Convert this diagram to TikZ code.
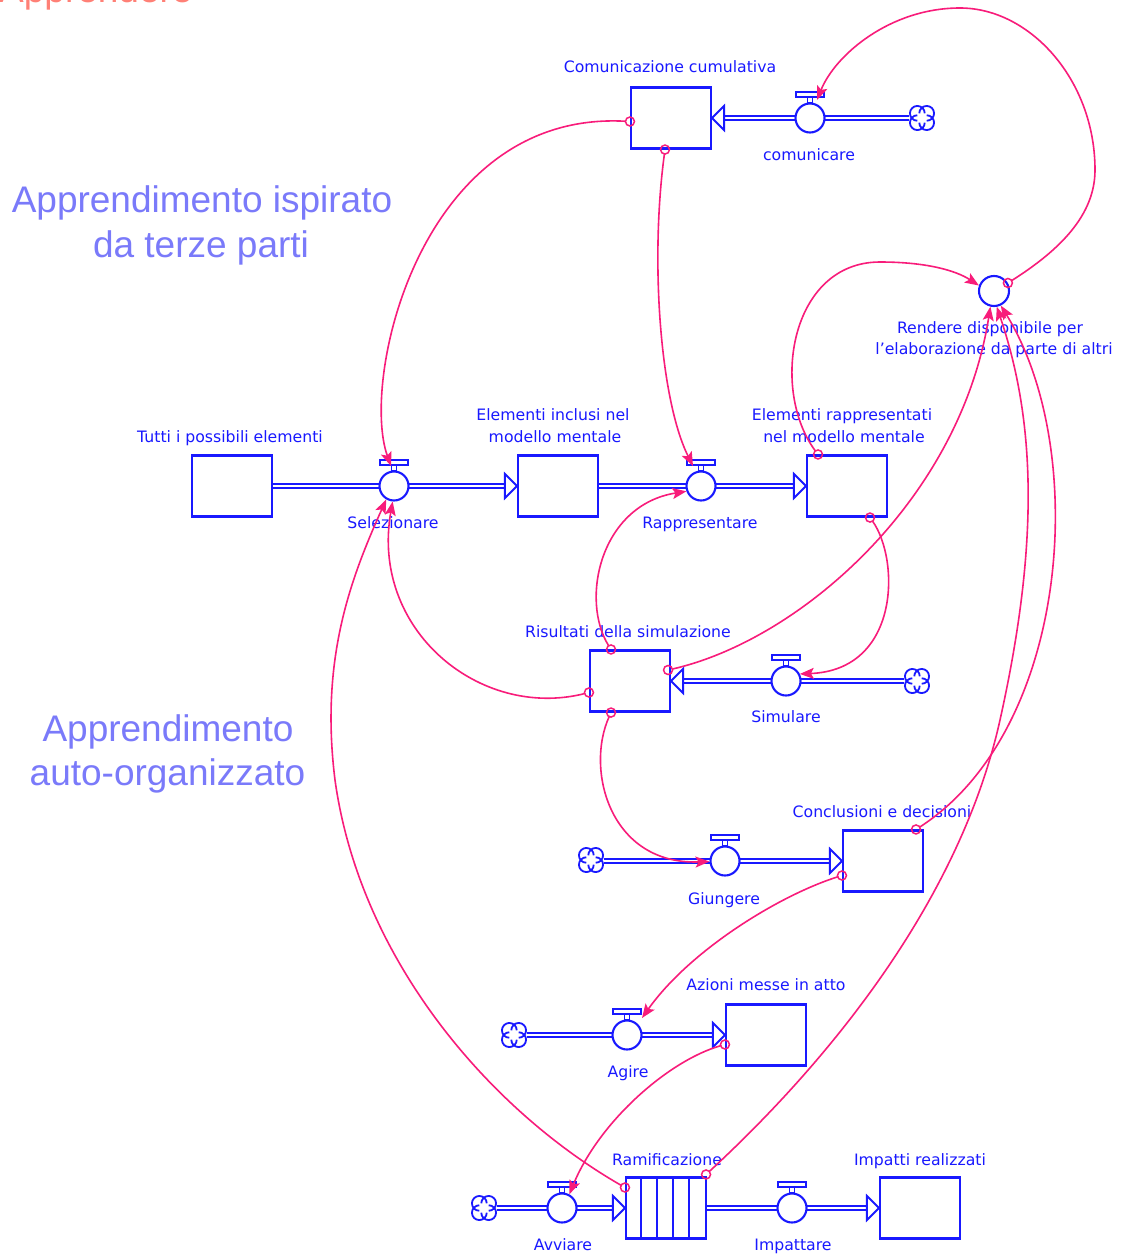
\documentclass[tikz,border=0pt]{standalone}
\usepackage{fontspec}
\setmainfont{DejaVu Sans}
\newfontfamily\titlefont{Liberation Sans}
\usetikzlibrary{arrows.meta,calc}
\definecolor{sdblue}{RGB}{25,25,255}
\definecolor{lnk}{RGB}{248,28,122}
\definecolor{ttlblue}{RGB}{122,122,250}
\definecolor{salmonc}{RGB}{255,128,118}
\pgfdeclarelayer{bg}
\pgfsetlayers{bg,main}
\tikzset{
  stock/.style={draw=sdblue, line width=2.1pt, fill=white, minimum width=80pt, minimum height=61pt, inner sep=0pt},
  valvec/.style={circle, draw=sdblue, line width=2.1pt, fill=white, minimum size=29pt, inner sep=0pt},
  valvet/.style={draw=sdblue, line width=1.8pt, fill=white},
  auxc/.style={circle, draw=sdblue, line width=2.1pt, fill=white, minimum size=30pt, inner sep=0pt},
  cloudn/.style={circle, minimum size=26pt, inner sep=0pt},
  cloudline/.style={draw=sdblue, line width=1.8pt},
  pipe/.style={draw=sdblue, line width=1.7pt, double=white, double distance=2.4pt},
  flowhd/.style={draw=sdblue, line width=2pt, fill=white, line join=miter},
  lbl/.style={text=sdblue, font=\fontsize{15.7}{19}\selectfont, inner sep=0pt, anchor=base},
  ttl/.style={text=ttlblue, font=\titlefont\fontsize{37}{44}\selectfont, inner sep=0pt, anchor=base},
  conn/.style={draw=lnk, line width=1.6pt, shorten <=4.5pt, -{Stealth[length=14pt,width=11pt,inset=3pt]}},
  srcdot/.style={draw=lnk, line width=1.5pt},
}
\newcommand\mkvalve[2]{%
  \node[valvec] (#1) at (#2) {};
  \draw[valvet] ($(#1.center)+(-2.5,-21)$) rectangle ($(#1.center)+(2.5,-15.5)$);
  \draw[valvet] ($(#1.center)+(-14,-26)$) rectangle ($(#1.center)+(14,-21)$);
}
\newcommand\mkcloud[2]{%
  \node[cloudn] (#1) at (#2) {};
  \foreach \a in {0,90,180,270}{%
    \draw[cloudline] ($(#1.center)+(\a+45:6.6)+(\a-90:7.4)$) arc[start angle=\a-90, end angle=\a+180, radius=7.4];
  }
}
\begin{document}
\begin{tikzpicture}[x=1pt,y=-1pt]
\useasboundingbox (0,0) rectangle (1120,1255);
\clip (0,0) rectangle (1120,1255);

% titles
\node[ttl, text=salmonc, anchor=base west] (tapp) at (-1,3) {Apprendere};
\node[ttl] (t1a) at (202,212) {Apprendimento ispirato};
\node[ttl] (t1b) at (201,257) {da terze parti};
\node[ttl] (t2a) at (168,741) {Apprendimento};
\node[ttl] (t2b) at (167.5,785) {auto-organizzato};

% stocks
\node[stock] (comstock) at (671,118) {};
\node[stock] (tutti) at (232,486) {};
\node[stock] (inclusi) at (558,486) {};
\node[stock] (rappr) at (847,486) {};
\node[stock] (risult) at (630,681) {};
\node[stock] (concl) at (883,861) {};
\node[stock] (azioni) at (766,1035) {};
\node[stock] (ramif) at (666,1208) {};
\node[stock] (impatti) at (920,1208) {};
\foreach \k in {1,2,3,4}{\draw[draw=sdblue, line width=1.8pt] ($(ramif.north west)+(16*\k,0)$) -- ($(ramif.south west)+(16*\k,0)$);}

% clouds
\mkcloud{comcl}{922,118}
\mkcloud{simcl}{917,681}
\mkcloud{giucl}{591,860}
\mkcloud{agicl}{514,1035}
\mkcloud{avvcl}{484,1208}

% pipes
\begin{pgfonlayer}{bg}
\fill[white] (0,0) rectangle (1120,1255);
\draw[pipe] (comcl.west) -- ($(comstock.east)+(12,0)$);
\draw[pipe] (tutti.east) -- ($(inclusi.west)+(-12,0)$);
\draw[pipe] (inclusi.east) -- ($(rappr.west)+(-12,0)$);
\draw[pipe] (simcl.west) -- ($(risult.east)+(12,0)$);
\draw[pipe] (giucl.east |- concl.west) -- ($(concl.west)+(-12,0)$);
\draw[pipe] (agicl.east) -- ($(azioni.west)+(-12,0)$);
\draw[pipe] (avvcl.east) -- ($(ramif.west)+(-12,0)$);
\draw[pipe] (ramif.east) -- ($(impatti.west)+(-12,0)$);
\end{pgfonlayer}
\draw[flowhd] (comstock.east) -- ++(12,-12) -- ++(0,24) -- cycle;
\draw[flowhd] (inclusi.west) -- ++(-12,-12) -- ++(0,24) -- cycle;
\draw[flowhd] (rappr.west) -- ++(-12,-12) -- ++(0,24) -- cycle;
\draw[flowhd] (risult.east) -- ++(12,-12) -- ++(0,24) -- cycle;
\draw[flowhd] (concl.west) -- ++(-12,-12) -- ++(0,24) -- cycle;
\draw[flowhd] (azioni.west) -- ++(-12,-12) -- ++(0,24) -- cycle;
\draw[flowhd] (ramif.west) -- ++(-12,-12) -- ++(0,24) -- cycle;
\draw[flowhd] (impatti.west) -- ++(-12,-12) -- ++(0,24) -- cycle;

% valves
\mkvalve{comv}{810,118}
\mkvalve{selv}{394,486}
\mkvalve{rapv}{701,486}
\mkvalve{simv}{786,681}
\mkvalve{giuv}{725,861}
\mkvalve{agiv}{627,1035}
\mkvalve{avvv}{562,1208}
\mkvalve{impv}{792,1208}
\node[auxc] (rend) at (994,291) {};

% labels
\node[lbl] (lcom) at (670,73) {Comunicazione cumulativa};
\node[lbl] (lcomv) at (809,160) {comunicare};
\node[lbl] (ltutti) at (230,442) {Tutti i possibili elementi};
\node[lbl] (lincl1) at (553,420) {Elementi inclusi nel};
\node[lbl] (lincl2) at (555,442) {modello mentale};
\node[lbl] (lrap1) at (842,420) {Elementi rappresentati};
\node[lbl] (lrap2) at (844,442) {nel modello mentale};
\node[lbl] (lsel) at (393,528) {Selezionare};
\node[lbl] (lrapv) at (700,528) {Rappresentare};
\node[lbl] (lrend1) at (990,333) {Rendere disponibile per};
\node[lbl] (lrend2) at (994,354) {l'elaborazione da parte di altri};
\node[lbl] (lris) at (628,637) {Risultati della simulazione};
\node[lbl] (lsim) at (786,722) {Simulare};
\node[lbl] (lconc) at (882,817) {Conclusioni e decisioni};
\node[lbl] (lgiu) at (724,904) {Giungere};
\node[lbl] (lazi) at (766,990) {Azioni messe in atto};
\node[lbl] (lagi) at (628,1077) {Agire};
\node[lbl] (lram) at (667,1165) {Ramificazione};
\node[lbl] (limp) at (920,1165) {Impatti realizzati};
\node[lbl] (lavv) at (563,1250) {Avviare};
\node[lbl] (limpv) at (793,1250) {Impattare};

% connector sources
\coordinate (s1) at ($(comstock.west)+(0,3.5)$);
\coordinate (s2) at ($(comstock.south)+(-6,0)$);
\coordinate (s3) at (rend.30);
\coordinate (s4) at ($(rappr.north)+(-29,0)$);
\coordinate (s5) at ($(risult.east)+(-3,-11)$);
\coordinate (s6) at ($(concl.north)+(33,0)$);
\coordinate (s7) at ($(ramif.north east)+(-1,-2)$);
\coordinate (s8) at ($(rappr.south)+(23,0)$);
\coordinate (s9) at ($(risult.north)+(-19,0)$);
\coordinate (s10) at ($(risult.west)+(0,11.5)$);
\coordinate (s11) at ($(risult.south)+(-19,0)$);
\coordinate (s12) at ($(concl.west)+(0,14.5)$);
\coordinate (s13) at ($(azioni.west)+(0,9.5)$);
\coordinate (s14) at ($(ramif.west)+(0,-20.5)$);

% connectors
\draw[conn] (s1) .. controls (420,110) and (360,380) .. ($(selv.center)+(-3,-20)$);
\draw[conn] (s2) .. controls (650,260) and (660,400) .. ($(rapv.center)+(-8,-20)$);
\draw[conn] (s3) .. controls (1060,250) and (1095,215) .. (1095,170)
   .. controls (1095,80) and (1030,8) .. (960,8)
   .. controls (890,8) and (835,55) .. ($(comv.center)+(7,-18)$);
\draw[conn] (s4) .. controls (770,390) and (790,262) .. (880,262)
   .. controls (925,262) and (955,270) .. (rend.160);
\draw[conn] (s5) .. controls (800,640) and (960,500) .. (rend.-103);
\draw[conn] (s6) .. controls (1070,730) and (1090,450) .. (rend.-65);
\draw[conn] (s7) .. controls (830,1060) and (960,900) .. (1000,720)
   .. controls (1040,540) and (1035,420) .. (rend.-80);
\draw[conn] (s8) .. controls (900,560) and (900,670) .. (simv.27);
\draw[conn] (s9) .. controls (580,600) and (600,505) .. (rapv.200);
\draw[conn] (s10) .. controls (480,720) and (370,630) .. (selv.-95);
\draw[conn] (s11) .. controls (585,770) and (610,865) .. (giuv.182);
\draw[conn] (s12) .. controls (780,895) and (690,950) .. ($(agiv.center)+(15,-17)$);
\draw[conn] (s13) .. controls (670,1060) and (600,1120) .. (avvv.62);
\draw[conn] (s14) .. controls (490,1110) and (360,960) .. (335,780)
   .. controls (320,660) and (350,580) .. (selv.-120);
\foreach \s in {s1,s2,s3,s4,s5,s6,s7,s8,s9,s10,s11,s12,s13,s14}{\draw[srcdot] (\s) circle[radius=4.5];}
\end{tikzpicture}
\end{document}
